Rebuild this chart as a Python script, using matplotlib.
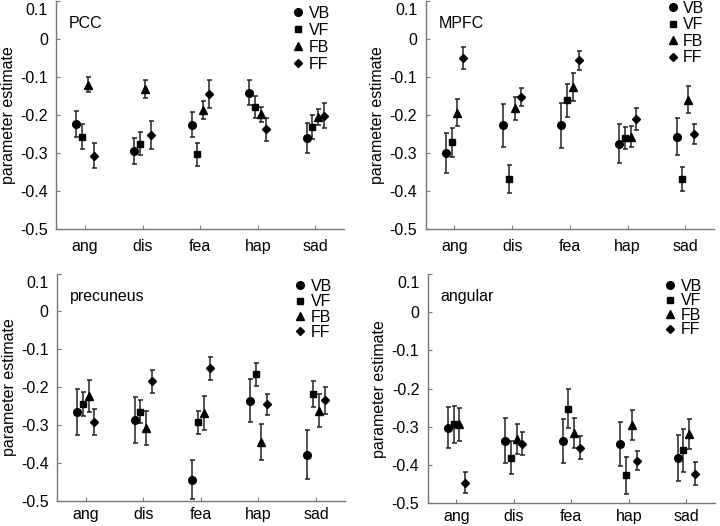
import numpy as np
import matplotlib
matplotlib.use("Agg")
import matplotlib.pyplot as plt
import matplotlib.transforms as mtransforms
from matplotlib.lines import Line2D

plt.rcParams['font.family'] = ['Liberation Sans', 'DejaVu Sans']

# categories and conditions
emotions = ["ang", "dis", "fea", "hap", "sad"]
conds = ["VB", "VF", "FB", "FF"]

# PCC
pcc_vb = [-0.224, -0.296, -0.226, -0.141, -0.261]
pcc_vf = [-0.257, -0.276, -0.304, -0.178, -0.231]
pcc_fb = [-0.120, -0.132, -0.187, -0.198, -0.206]
pcc_ff = [-0.308, -0.253, -0.146, -0.238, -0.202]
pcc_vb_err = [0.035, 0.034, 0.033, 0.033, 0.039]
pcc_vf_err = [0.032, 0.030, 0.031, 0.029, 0.032]
pcc_fb_err = [0.019, 0.023, 0.024, 0.020, 0.021]
pcc_ff_err = [0.033, 0.036, 0.037, 0.030, 0.033]

# MPFC
mpfc_vb = [-0.300, -0.227, -0.227, -0.275, -0.256]
mpfc_vf = [-0.271, -0.368, -0.161, -0.260, -0.367]
mpfc_fb = [-0.193, -0.182, -0.126, -0.256, -0.159]
mpfc_ff = [-0.049, -0.152, -0.056, -0.211, -0.250]
mpfc_vb_err = [0.052, 0.057, 0.058, 0.051, 0.049]
mpfc_vf_err = [0.038, 0.037, 0.043, 0.029, 0.032]
mpfc_fb_err = [0.036, 0.031, 0.037, 0.028, 0.036]
mpfc_ff_err = [0.029, 0.023, 0.025, 0.029, 0.027]

# precuneus
prec_vb = [-0.265, -0.286, -0.443, -0.235, -0.377]
prec_vf = [-0.243, -0.264, -0.292, -0.166, -0.217]
prec_fb = [-0.223, -0.307, -0.267, -0.344, -0.261]
prec_ff = [-0.291, -0.184, -0.150, -0.245, -0.234]
prec_vb_err = [0.060, 0.060, 0.052, 0.056, 0.065]
prec_vf_err = [0.032, 0.031, 0.031, 0.030, 0.035]
prec_fb_err = [0.042, 0.044, 0.044, 0.048, 0.043]
prec_ff_err = [0.034, 0.031, 0.031, 0.028, 0.036]

# angular
ang_vb = [-0.302, -0.336, -0.336, -0.344, -0.381]
ang_vf = [-0.293, -0.380, -0.252, -0.427, -0.361]
ang_fb = [-0.293, -0.332, -0.315, -0.295, -0.319]
ang_ff = [-0.446, -0.344, -0.354, -0.388, -0.422]
ang_vb_err = [0.053, 0.059, 0.058, 0.058, 0.061]
ang_vf_err = [0.049, 0.043, 0.051, 0.049, 0.056]
ang_fb_err = [0.043, 0.039, 0.039, 0.039, 0.039]
ang_ff_err = [0.027, 0.030, 0.029, 0.024, 0.029]

yticks = [0.1, 0, -0.1, -0.2, -0.3, -0.4, -0.5]
ytick_labels = ["0.1", "0", "-0.1", "-0.2", "-0.3", "-0.4", "-0.5"]

panels = [
    ("PCC", [pcc_vb, pcc_vf, pcc_fb, pcc_ff],
     [pcc_vb_err, pcc_vf_err, pcc_fb_err, pcc_ff_err]),
    ("MPFC", [mpfc_vb, mpfc_vf, mpfc_fb, mpfc_ff],
     [mpfc_vb_err, mpfc_vf_err, mpfc_fb_err, mpfc_ff_err]),
    ("precuneus", [prec_vb, prec_vf, prec_fb, prec_ff],
     [prec_vb_err, prec_vf_err, prec_fb_err, prec_ff_err]),
    ("angular", [ang_vb, ang_vf, ang_fb, ang_ff],
     [ang_vb_err, ang_vf_err, ang_fb_err, ang_ff_err]),
]

# axes rectangles (figure fractions) and legend placement
rects = [
    [0.078, 0.565, 0.400, 0.433],
    [0.591, 0.564, 0.401, 0.434],
    [0.079, 0.047, 0.400, 0.433],
    [0.594, 0.043, 0.399, 0.436],
]
leg_anchor = [(0.95, 0.979), (0.965, 1.0), (0.955, 0.976), (0.955, 0.979)]
leg_space = [0.12, 0.09, 0.02, -0.03]
xpad = [7, 7, 4, 4]

markers = ["o", "s", "^", "D"]
msizes = [5.5, 4.5, 6, 4.5]
offsets = [-0.15, -0.05, 0.05, 0.15]
fs = 11.5
spine_col = "#777777"

fig = plt.figure(figsize=(7.2, 5.26), dpi=100)
x = np.arange(1, 6)

handles = [Line2D([], [], ls="none", marker=markers[j], ms=msizes[j],
                  color="black") for j in range(4)]

for i, (name, means, errs) in enumerate(panels):
    ax = fig.add_axes(rects[i])
    for j in range(4):
        ax.errorbar(x + offsets[j], means[j], yerr=errs[j], fmt=markers[j],
                    ms=msizes[j], color="black", mfc="black", mec="black",
                    ecolor="#222222", elinewidth=1.1, capsize=1.8,
                    capthick=1.1)
    ax.set_xlim(0.5, 5.5)
    ax.set_ylim(-0.5, 0.1)
    ax.set_xticks(x)
    ax.set_xticklabels(emotions, fontsize=fs)
    ax.set_yticks(yticks)
    ax.set_yticklabels(ytick_labels, fontsize=fs)
    for s in ["top", "right"]:
        ax.spines[s].set_visible(False)
    for s in ["left", "bottom"]:
        ax.spines[s].set_color(spine_col)
        ax.spines[s].set_linewidth(1.0)
    ax.tick_params(direction="in", length=3, color=spine_col, labelcolor="black")
    ax.tick_params(axis="y", pad=6)
    ax.tick_params(axis="x", pad=xpad[i])
    ax.set_ylabel("parameter estimate", fontsize=fs)
    ax.yaxis.set_label_coords(-0.14, 0.5)
    ax.text(0.045, 0.9, name, transform=ax.transAxes, fontsize=fs,
            ha="left", va="center")
    ax.legend(handles, conds, loc="upper right", bbox_to_anchor=leg_anchor[i],
              frameon=False, fontsize=fs, handlelength=0.9, handletextpad=0.2,
              labelspacing=leg_space[i], borderpad=0, borderaxespad=0,
              numpoints=1)
    # top tick label sits a little below its tick in the original
    top_tick = ax.yaxis.get_major_ticks()[0]
    off = mtransforms.ScaledTranslation(0, -8 / 100, fig.dpi_scale_trans)
    top_tick.label1.set_transform(top_tick.label1.get_transform() + off)

fig.savefig("out.png", dpi=100)
